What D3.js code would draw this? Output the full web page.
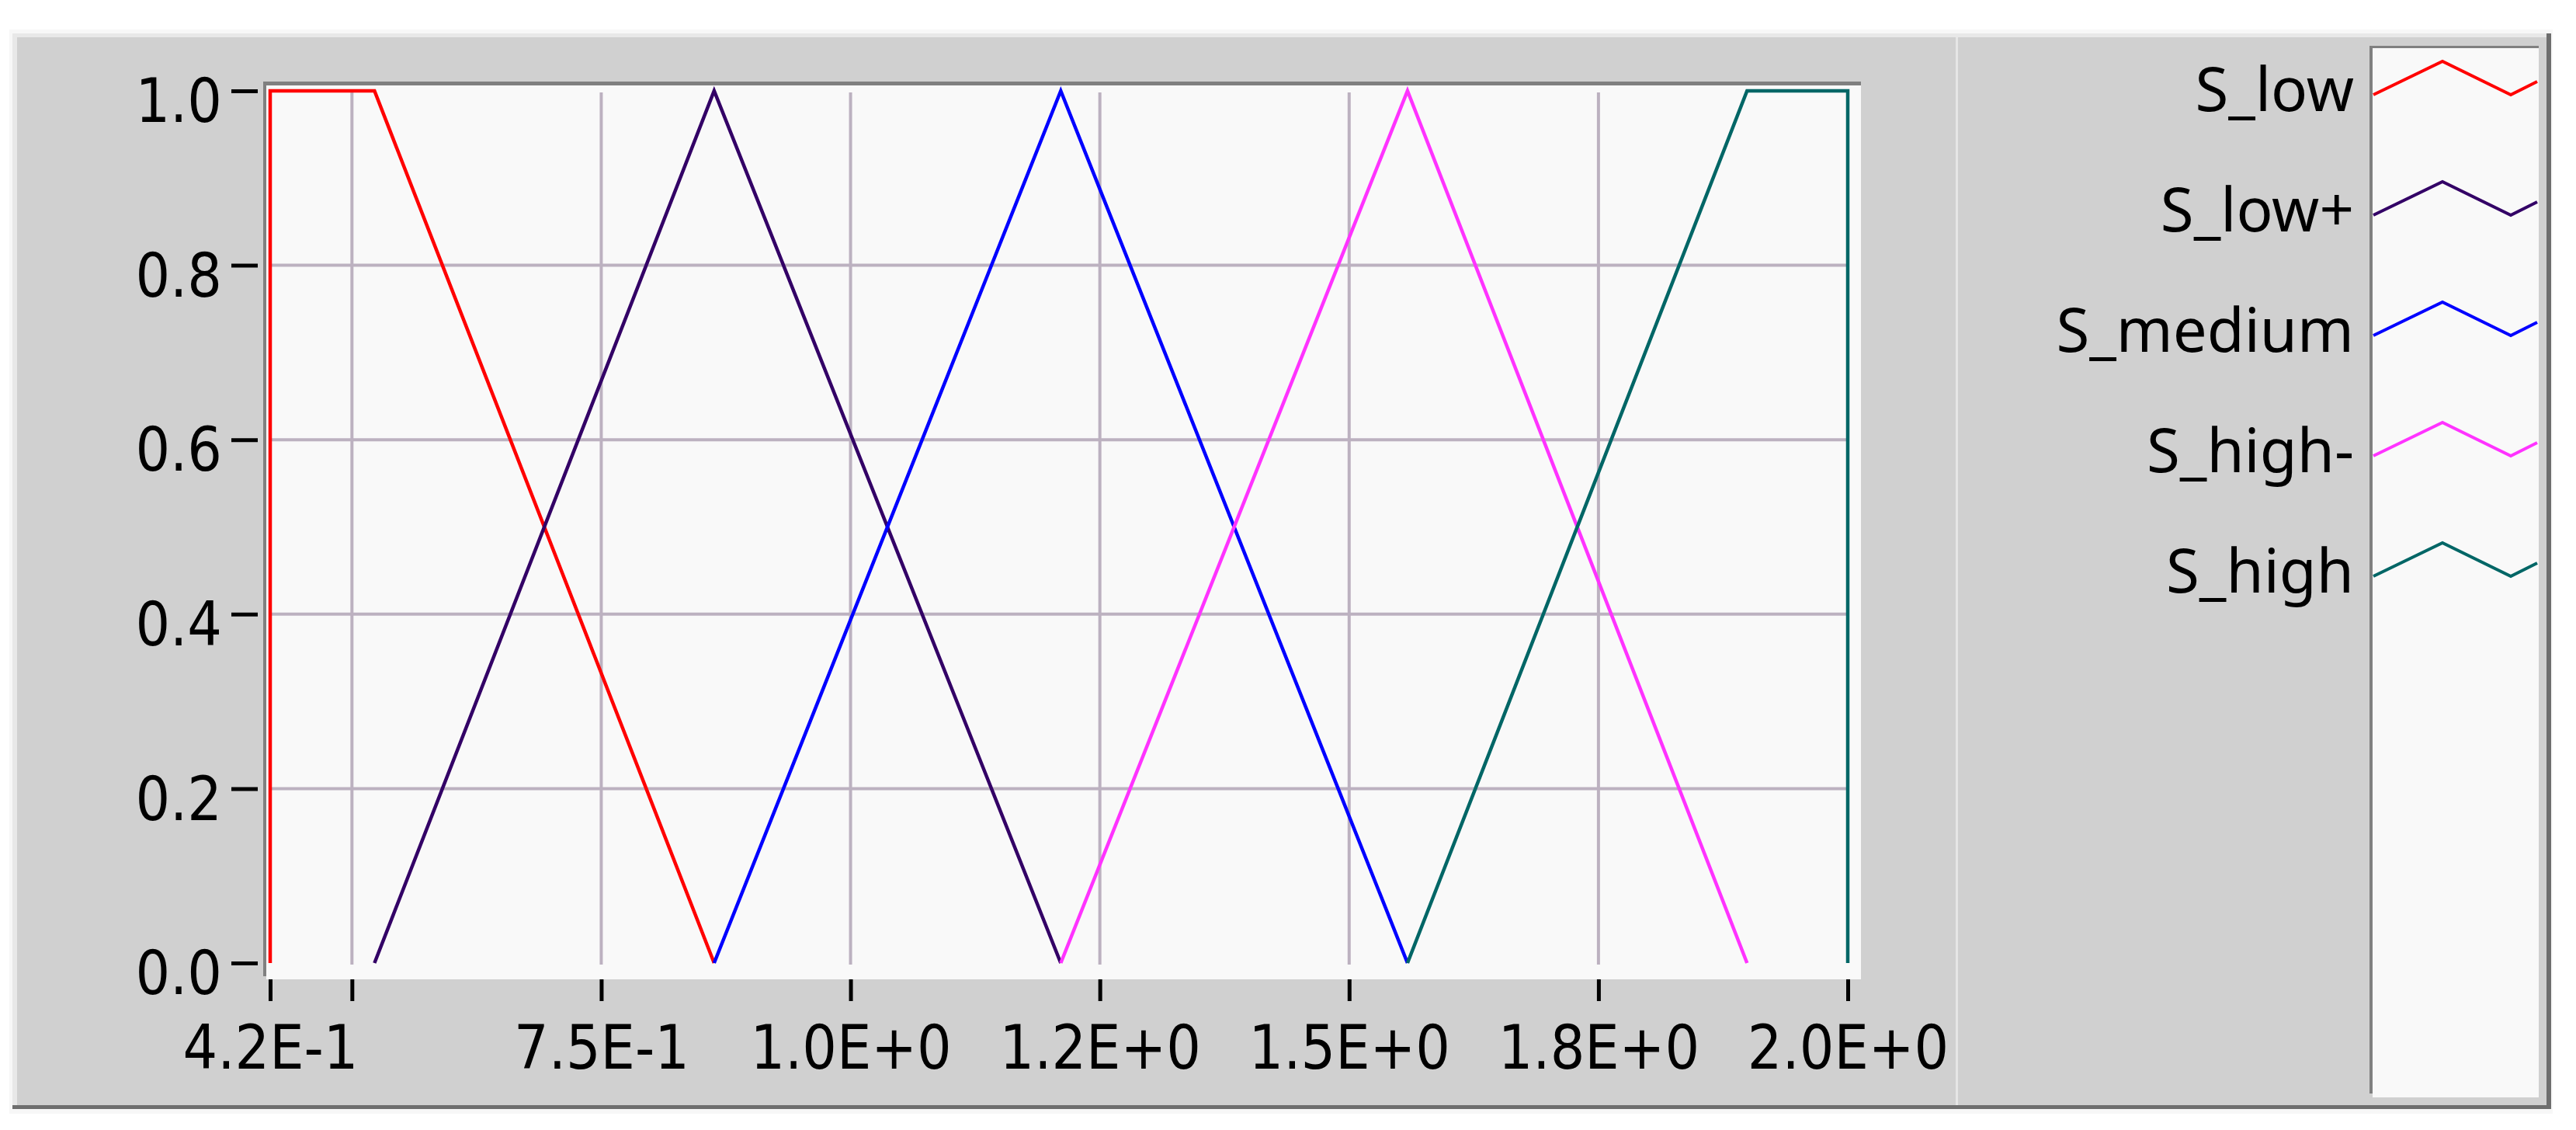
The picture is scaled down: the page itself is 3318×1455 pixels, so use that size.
<!DOCTYPE html>
<html lang="en">
<head>
  <meta charset="UTF-8">
  <title>Membership functions S</title>
  <style>
    body {
      margin: 0;
      background: #ffffff;
    }

    svg {
      display: block;
    }

    .axis text {
      font-family: 'DejaVu Sans Condensed', 'DejaVu Sans', sans-serif;
      font-stretch: condensed;
      font-size: 78px;
      fill: #000;
    }

    .axis line {
      stroke: #000;
      stroke-width: 5px;
    }

    .legend-label {
      font-family: 'Noto Sans', 'Open Sans', sans-serif;
      font-size: 78px;
      fill: #000;
      text-anchor: end;
    }

    .grid line {
      stroke: #bcb1c0;
      stroke-width: 4px;
    }

    .series {
      fill: none;
      stroke-width: 4.5px;
      stroke-linejoin: miter;
    }
  </style>
</head>
<body>
  <svg width="3318" height="1455"></svg>

  <script src="https://d3js.org/d3.v7.min.js"></script>
  <script>
    // series, in legend order
    const seriesNames = ["S_low", "S_low+", "S_medium", "S_high-", "S_high"];
    const seriesColors = ["#ff0000", "#330066", "#0000ff", "#ff33ff", "#006666"];

    const sLowX = [0.418, 0.418, 0.5226, 0.8632];
    const sLowY = [0, 1, 1, 0];
    const sLowPlusX = [0.5226, 0.8632, 1.2108];
    const sLowPlusY = [0, 1, 0];
    const sMediumX = [0.8632, 1.2108, 1.5585];
    const sMediumY = [0, 1, 0];
    const sHighMinusX = [1.2108, 1.5585, 1.899];
    const sHighMinusY = [0, 1, 0];
    const sHighX = [1.5585, 1.899, 2.0, 2.0];
    const sHighY = [0, 1, 1, 0];

    // axes
    const xDomain = [0.418, 2.0];
    const yDomain = [0, 1];
    const xTickValues = [0.418, 0.5, 0.75, 1.0, 1.25, 1.5, 1.75, 2.0];
    const xTickLabels = ["4.2E-1", "", "7.5E-1", "1.0E+0", "1.2E+0", "1.5E+0", "1.8E+0", "2.0E+0"];
    const yTickValues = [0, 0.2, 0.4, 0.6, 0.8, 1.0];
    const xGridValues = [0.5, 0.75, 1.0, 1.25, 1.5, 1.75];
    const yGridValues = [0.2, 0.4, 0.6, 0.8];

    const seriesX = [sLowX, sLowPlusX, sMediumX, sHighMinusX, sHighX];
    const seriesY = [sLowY, sLowPlusY, sMediumY, sHighMinusY, sHighY];
    const series = seriesNames.map((name, i) => ({
      name: name,
      color: seriesColors[i],
      points: seriesX[i].map((xv, j) => [xv, seriesY[i][j]])
    }));

    const svg = d3.select("svg");

    // panel background (LabVIEW-like raised frame)
    svg.append("rect").attr("x", 12).attr("y", 38).attr("width", 3276).attr("height", 1396).attr("fill", "#f7f7f7");
    svg.append("rect").attr("x", 16).attr("y", 43).attr("width", 3270).attr("height", 1385).attr("fill", "#e8e8e8");
    svg.append("rect").attr("x", 22).attr("y", 48).attr("width", 3258).attr("height", 1375).attr("fill", "#d0d0d0");
    svg.append("rect").attr("x", 3280).attr("y", 43).attr("width", 6).attr("height", 1385).attr("fill", "#6e6e6e");
    svg.append("rect").attr("x", 16).attr("y", 1423).attr("width", 3270).attr("height", 5).attr("fill", "#6e6e6e");
    // divider between plot and legend
    svg.append("rect").attr("x", 2519).attr("y", 48).attr("width", 3).attr("height", 1375).attr("fill", "#e6e6e6");

    // plot area
    const plotLeft = 343, plotTop = 110, plotRight = 2397, plotBottom = 1261;
    svg.append("rect").attr("x", plotLeft).attr("y", plotTop)
      .attr("width", plotRight - plotLeft).attr("height", plotBottom - plotTop).attr("fill", "#f9f9f9");
    svg.append("rect").attr("x", 339).attr("y", 105).attr("width", plotRight - 339).attr("height", 5).attr("fill", "#808080");
    svg.append("rect").attr("x", 339).attr("y", 105).attr("width", 4).attr("height", plotBottom - 105 - 4).attr("fill", "#808080");

    const x = d3.scaleLinear().domain(xDomain).range([348, 2380]);
    const y = d3.scaleLinear().domain(yDomain).range([1240, 117]);

    // grid
    const grid = svg.append("g").attr("class", "grid");
    grid.selectAll(".vgrid")
      .data(xGridValues)
      .enter()
      .append("line")
      .attr("x1", (d) => x(d)).attr("x2", (d) => x(d))
      .attr("y1", y(1) + 2).attr("y2", y(0) + 2);
    grid.selectAll(".hgrid")
      .data(yGridValues)
      .enter()
      .append("line")
      .attr("x1", x(xDomain[0])).attr("x2", x(xDomain[1]))
      .attr("y1", (d) => y(d)).attr("y2", (d) => y(d));

    // axes
    const xAxis = svg.append("g")
      .attr("class", "axis")
      .attr("transform", `translate(0,${plotBottom})`)
      .call(d3.axisBottom(x).tickValues(xTickValues).tickFormat((d, i) => xTickLabels[i]).tickSize(28).tickPadding(32));
    xAxis.select(".domain").remove();

    const yAxis = svg.append("g")
      .attr("class", "axis")
      .attr("transform", "translate(332,0)")
      .call(d3.axisLeft(y).tickValues(yTickValues).tickFormat(d3.format(".1f")).tickSize(34).tickPadding(12));
    yAxis.select(".domain").remove();
    yAxis.selectAll("text").attr("dy", "0.51em");

    // series
    const line = d3.line().x((d) => x(d[0])).y((d) => y(d[1]));
    svg.append("g")
      .selectAll("path")
      .data(series)
      .enter()
      .append("path")
      .attr("class", "series")
      .attr("stroke", (d) => d.color)
      .attr("d", (d) => line(d.points));

    // legend
    const legLeft = 3056, legTop = 62, legRight = 3270, legBottom = 1413;
    svg.append("rect").attr("x", legLeft).attr("y", legTop)
      .attr("width", legRight - legLeft).attr("height", legBottom - legTop).attr("fill", "#f9f9f9");
    svg.append("rect").attr("x", 3052).attr("y", 59).attr("width", legRight - 3052).attr("height", 3).attr("fill", "#808080");
    svg.append("rect").attr("x", 3052).attr("y", 59).attr("width", 4).attr("height", 1349).attr("fill", "#808080");

    const legendRow = d3.scaleLinear().domain([0, 1]).range([143, 298]);
    const legend = svg.append("g")
      .selectAll("g")
      .data(series)
      .enter()
      .append("g")
      .attr("transform", (d, i) => `translate(0,${legendRow(i)})`);

    legend.append("text")
      .attr("class", "legend-label")
      .attr("x", 3032)
      .attr("y", 0)
      .text((d) => d.name);

    // small zigzag sample next to each name
    legend.append("path")
      .attr("fill", "none")
      .attr("stroke-width", 4)
      .attr("stroke", (d) => d.color)
      .attr("d", "M3057,-21 L3146,-64 L3234,-21 L3268,-38");
  </script>
</body>
</html>
